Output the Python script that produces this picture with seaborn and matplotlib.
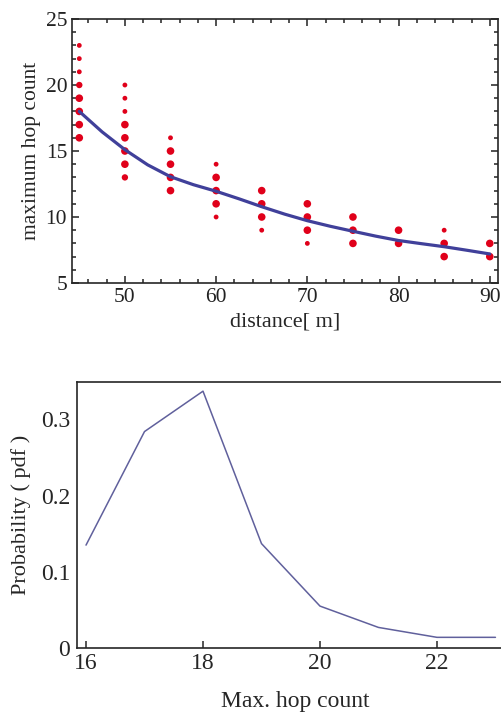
import numpy as np
import pandas as pd
import seaborn as sns
import matplotlib
matplotlib.use("Agg")
import matplotlib.pyplot as plt
from matplotlib.ticker import MultipleLocator

# --- data ---
# top: simulated max hop counts per distance (weight 1=small dot, 3=big dot)
dist_pts = [45]*8 + [50]*8 + [55]*5 + [60]*5 + [65]*4 + [70]*4 + [75]*3 + [80]*2 + [85]*3 + [90]*2
hop_pts = [16, 17, 18, 19, 20, 21, 22, 23,
           13, 14, 15, 16, 17, 18, 19, 20,
           12, 13, 14, 15, 16,
           10, 11, 12, 13, 14,
           9, 10, 11, 12,
           8, 9, 10, 11,
           8, 9, 10,
           8, 9,
           7, 8, 9,
           7, 8]
weight_pts = [3, 3, 3, 3, 2, 1, 1, 1,
              2, 3, 3, 3, 3, 1, 1, 1,
              3, 3, 3, 3, 1,
              1, 3, 3, 3, 1,
              1, 3, 3, 3,
              1, 3, 3, 3,
              3, 3, 3,
              3, 3,
              3, 3, 1,
              3, 3]

# top: fitted curve
curve_d = [45, 47.5, 50, 52.5, 55, 57.5, 60, 62.5, 65, 67.5, 70, 72.5, 75, 77.5, 80, 82.5, 85, 87.5, 90]
curve_h = [18.0, 16.45, 15.1, 13.95, 13.05, 12.45, 11.95, 11.38, 10.78, 10.22, 9.72, 9.3, 8.92, 8.55, 8.22, 7.98, 7.75, 7.48, 7.2]

# bottom: pdf of max hop count
hop_cnt = [16, 17, 18, 19, 20, 21, 22, 23]
prob = [0.135, 0.284, 0.337, 0.137, 0.055, 0.027, 0.014, 0.014]

df_pts = pd.DataFrame({"d": dist_pts, "h": hop_pts, "w": weight_pts})
df_curve = pd.DataFrame({"d": curve_d, "h": curve_h})
df_pdf = pd.DataFrame({"k": hop_cnt, "p": prob})

sns.set_style("ticks")
plt.rcParams['font.family'] = ['Liberation Serif', 'DejaVu Serif']
plt.rcParams['axes.linewidth'] = 1.2

fig = plt.figure(figsize=(5.02, 7.15), dpi=100)

# ---------- top panel ----------
ax1 = fig.add_axes([0.1434, 0.6042, 0.8486, 0.3692])
sns.lineplot(data=df_curve, x="d", y="h", ax=ax1, color="#40409a", linewidth=2.3, zorder=3)
sns.scatterplot(data=df_pts, x="d", y="h", size="w", sizes=(12, 30), ax=ax1,
                color="#e0001a", edgecolor="none", legend=False, zorder=2)
ax1.set_xlim(44.2, 90.9)
ax1.set_ylim(5, 25)
ax1.xaxis.set_major_locator(MultipleLocator(10))
ax1.xaxis.set_minor_locator(MultipleLocator(2))
ax1.yaxis.set_major_locator(MultipleLocator(5))
ax1.yaxis.set_minor_locator(MultipleLocator(1))
ax1.tick_params(which="both", direction="in", top=True, right=True, labelsize=15.5, width=1.1, colors="#222222")
ax1.tick_params(which="major", length=5)
ax1.tick_params(which="minor", length=3)
ax1.set_xlabel("distance[ m]", fontsize=16, labelpad=4)
ax1.set_ylabel("maximum hop count", fontsize=15.5, labelpad=3)

# ---------- bottom panel ----------
ax2 = fig.add_axes([0.1534, 0.0937, 0.8685, 0.372])
sns.lineplot(data=df_pdf, x="k", y="p", ax=ax2, color="#60609c", linewidth=1.1)
ax2.set_xlim(15.846, 23.3)
ax2.set_ylim(0, 0.349)
ax2.set_xticks([16, 18, 20, 22])
ax2.set_yticks([0, 0.1, 0.2, 0.3])
ax2.set_yticklabels(["0", "0.1", "0.2", "0.3"])
ax2.tick_params(axis="x", direction="in", length=5, width=1.1, labelsize=17)
ax2.tick_params(axis="y", direction="in", length=0, labelsize=17, pad=5)
ax2.set_xlabel("Max. hop count", fontsize=17, labelpad=12)
ax2.set_ylabel("Probability ( pdf )", fontsize=16, labelpad=7)

fig.savefig("out.png", dpi=100)
